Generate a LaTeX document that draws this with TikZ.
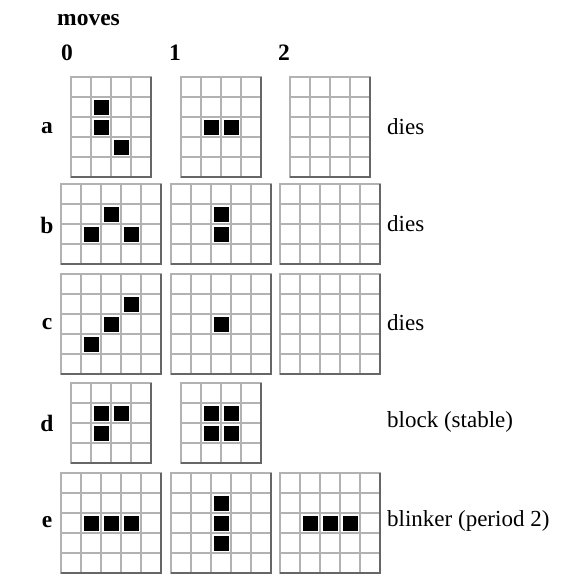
\documentclass[tikz,border=0pt]{standalone}
\usepackage{fontspec}
\setmainfont{Liberation Serif}
\usetikzlibrary{positioning}
\tikzstyle{cellline}=[draw=black!30, line width=2pt]
\tikzstyle{frame}=[draw=black!60, line width=1.5pt]
\tikzstyle{alive}=[fill=black]
\tikzstyle{head}=[inner sep=0pt, font=\fontsize{23.5}{27}\selectfont\bfseries]
\tikzstyle{fate}=[inner sep=0pt, anchor=west, font=\fontsize{23}{27}\selectfont]

% \board{left}{top}{cols}{rows}{live cells as c/r}
\newcommand{\board}[5]{%
  \foreach \c in {1,...,#3} {
    \foreach \r in {1,...,#4} {
      \draw[cellline] ({#1+(\c-1)*20},{#2+(\r-1)*20}) rectangle ++(20,20);
    }
  }
  \draw[frame] (#1,{#2+#4*20}) -- ++(#3*20,0) -- ++(0,-#4*20);
  \foreach \c/\r in {#5} {
    \fill[alive] ({#1+\c*20+2.5},{#2+\r*20+2.5}) rectangle ++(15,15);
  }
}

\begin{document}
\begin{tikzpicture}[x=1pt, y=-1pt]
  \useasboundingbox (0,0) rectangle (579,581);

  \node[head, anchor=west] (moves) at (57,20) {moves};
  \node[head] (m0) at (67,53) {0};
  \node[head] (m1) at (175,53) {1};
  \node[head] (m2) at (284,53) {2};

  % row a
  \node[head] (la) at (47,128) {a};
  \board{71}{77}{4}{5}{1/1, 1/2, 2/3}
  \board{181}{77}{4}{5}{1/2, 2/2}
  \board{290}{77}{4}{5}{}
  \node[fate] (fa) at (387,127) {dies};

  % row b
  \node[head] (lb) at (47,225) {b};
  \board{61}{184}{5}{4}{2/1, 1/2, 3/2}
  \board{171}{184}{5}{4}{2/1, 2/2}
  \board{280}{184}{5}{4}{}
  \node[fate] (fb) at (387,224) {dies};

  % row c
  \node[head] (lc) at (47,324) {c};
  \board{61}{274}{5}{5}{3/1, 2/2, 1/3}
  \board{171}{274}{5}{5}{2/2}
  \board{280}{274}{5}{5}{}
  \node[fate] (fc) at (387,323) {dies};

  % row d
  \node[head] (ld) at (47,423) {d};
  \board{71}{383}{4}{4}{1/1, 2/1, 1/2}
  \board{181}{383}{4}{4}{1/1, 2/1, 1/2, 2/2}
  \node[fate] (fd) at (387,422) {block (stable)};

  % row e
  \node[head] (le) at (47,522) {e};
  \board{61}{473}{5}{5}{1/2, 2/2, 3/2}
  \board{171}{473}{5}{5}{2/1, 2/2, 2/3}
  \board{280}{473}{5}{5}{1/2, 2/2, 3/2}
  \node[fate] (fe) at (387,521) {blinker (period 2)};
\end{tikzpicture}
\end{document}
